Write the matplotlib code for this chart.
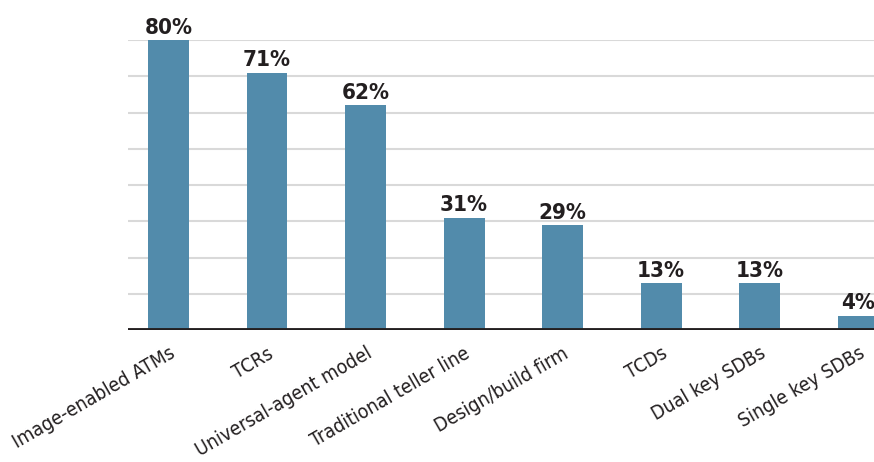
import matplotlib.pyplot as plt

# Share of respondents per branch feature
categories = [
    "Image-enabled ATMs", "TCRs", "Universal-agent model", "Traditional teller line",
    "Design/build firm", "TCDs", "Dual key SDBs", "Single key SDBs",
]
values = [80, 71, 62, 31, 29, 13, 13, 4]
gridlines = [10, 20, 30, 40, 50, 60, 70, 80]

plt.rcParams['font.family'] = ['DejaVu Sans']
plt.rcParams['font.stretch'] = 'condensed'

bar_color = '#528bab'
text_color = '#231f20'

fig = plt.figure(figsize=(8.74, 4.62), dpi=100)
ax = fig.add_axes([0.1465, 0.2857, 0.8535, 0.6277])

x = range(len(categories))
ax.bar(x, values, width=0.415, color=bar_color, zorder=3)

for g in gridlines:
    ax.axhline(g, color='#d9d9d9', lw=1.5, zorder=1)
ax.axhline(0, color=text_color, lw=3.5, zorder=4)

for i, v in zip(x, values):
    ax.text(i, v + 0.6, f"{v}%", ha='center', va='bottom', fontsize=16,
            fontweight='bold', color=text_color, clip_on=False)

ax.set_xlim(-0.41, 7.16)
ax.set_ylim(0, 80)
ax.set_yticks([])
ax.set_xticks(list(x))
ax.set_xticklabels(categories, rotation=30, ha='right', rotation_mode='anchor',
                   fontsize=14, color=text_color)
ax.tick_params(axis='x', length=0, pad=10)
for s in ax.spines.values():
    s.set_visible(False)

fig.savefig('out.png', dpi=100)
